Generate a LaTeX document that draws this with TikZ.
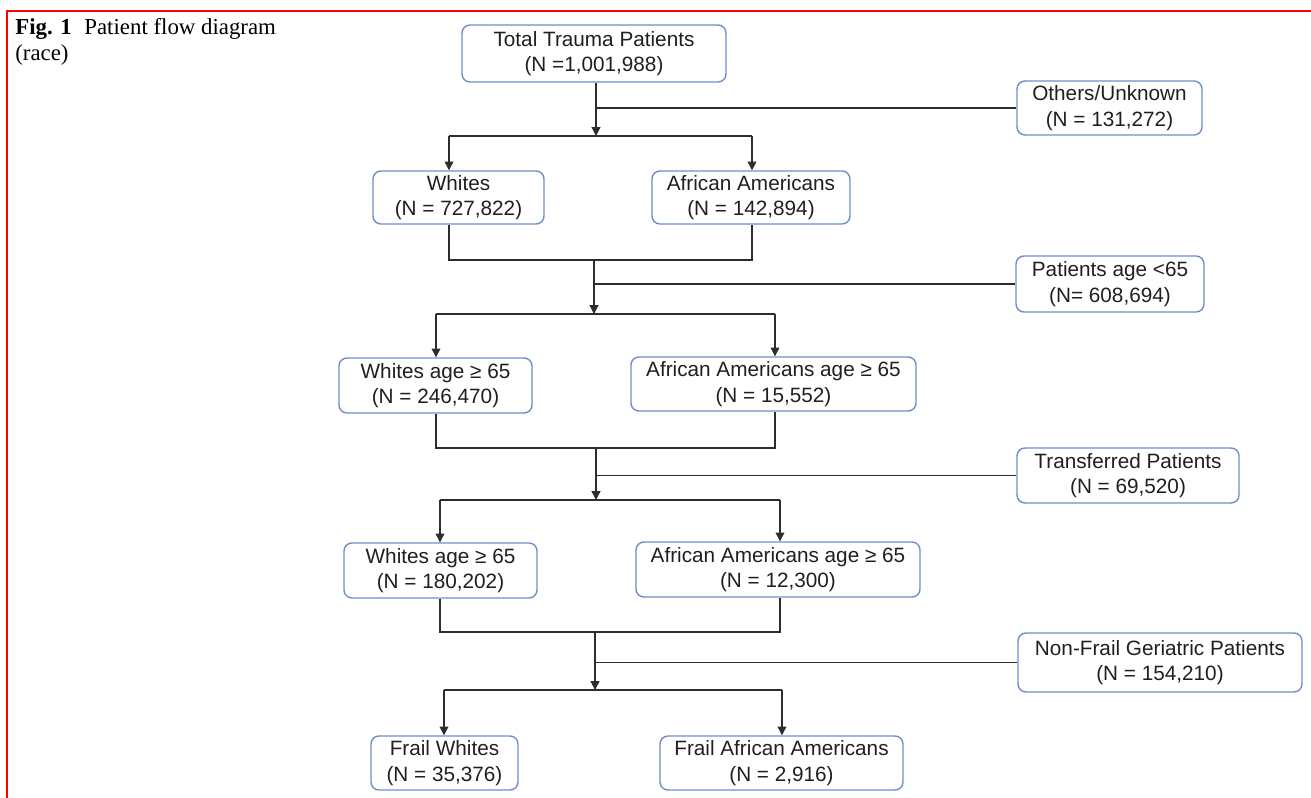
\documentclass[tikz,border=0pt]{standalone}
\usepackage{fontspec}
\setmainfont{Liberation Sans}
\newfontfamily\capfont{Liberation Serif}
\usetikzlibrary{arrows.meta}
\definecolor{boxblue}{RGB}{112,142,198}
\definecolor{linegray}{RGB}{45,45,45}
\definecolor{framered}{RGB}{255,0,0}

\begin{document}
\begin{tikzpicture}[x=0.2mm,y=-0.2mm,
    box/.style={draw=boxblue,line width=0.8pt,rounded corners=1.6mm,align=center,inner sep=0pt,
      minimum height=11mm,text=black!88,font=\fontsize{11.8}{14.5}\selectfont},
    link/.style={draw=linegray,line width=0.7pt},
    flow/.style={link,-{Triangle[length=5pt,width=5pt]}}]
\useasboundingbox (0,0) rectangle (1311,798);
\draw[framered,line width=0.5mm] (7,798) -- (7,11) -- (1311,11);
\node[anchor=north west,inner sep=0pt,align=left,font=\capfont\fontsize{13}{14.7}\selectfont] (cap) at (15,18)
    {\textbf{Fig. 1}\hspace{0.55em}Patient flow diagram\\(race)};

\node[box,minimum width=52.8mm,minimum height=11.4mm] (tot) at (594,53.5) {Total Trauma Patients\\(N =1,001,988)};
\node[box,minimum width=37mm,minimum height=10.8mm] (oth) at (1109.5,108) {Others/Unknown\\(N = 131,272)};
\node[box,minimum width=34.2mm,minimum height=10.6mm] (wht) at (458.5,197.5) {Whites\\(N = 727,822)};
\node[box,minimum width=39.6mm,minimum height=10.6mm] (aam) at (751,197.5) {African Americans\\(N = 142,894)};
\node[box,minimum width=37.6mm,minimum height=11.2mm] (young) at (1110,284) {Patients age <65\\(N= 608,694)};
\node[box,minimum width=38.6mm] (wold) at (435.5,385.5) {Whites age ≥ 65\\(N = 246,470)};
\node[box,minimum width=57mm,minimum height=10.8mm] (aold) at (773.5,384) {African Americans age ≥ 65\\(N = 15,552)};
\node[box,minimum width=44.4mm] (trf) at (1128,475.5) {Transferred Patients\\(N = 69,520)};
\node[box,minimum width=38.6mm] (wtr) at (440.5,570.5) {Whites age ≥ 65\\(N = 180,202)};
\node[box,minimum width=56.8mm] (atr) at (778,569.5) {African Americans age ≥ 65\\(N = 12,300)};
\node[box,minimum width=56.8mm,minimum height=11.8mm] (nfr) at (1160,662.5) {Non-Frail Geriatric Patients\\(N = 154,210)};
\node[box,minimum width=29.4mm,minimum height=10.8mm] (fwh) at (444.5,763) {Frail Whites\\(N = 35,376)};
\node[box,minimum width=48.6mm,minimum height=10.8mm] (faa) at (781.5,763) {Frail African Americans\\(N = 2,916)};

% junctions of the connector lines
\coordinate (t1) at (596,136);  \coordinate (s1w) at (449,136); \coordinate (s1e) at (752,136);
\coordinate (j2) at (594,260);  \coordinate (t2) at (594,314);
\coordinate (s2w) at (436,314); \coordinate (s2e) at (775,314);
\coordinate (j3) at (596,448);  \coordinate (t3) at (596,500);
\coordinate (s3w) at (440,500); \coordinate (s3e) at (780,500);
\coordinate (j4) at (595,632);  \coordinate (t4) at (595,690);
\coordinate (s4w) at (444,690); \coordinate (s4e) at (782,690);

\draw[flow] (tot.south -| t1) -- (t1);
\draw[link] (t1 |- oth.west) -- (oth.west);
\draw[link] (s1w) -- (s1e);
\draw[flow] (s1w) -- (s1w |- wht.north);
\draw[flow] (s1e) -- (s1e |- aam.north);

\draw[link] (s1w |- wht.south) -- (s1w |- j2) -- (s1e |- j2) -- (s1e |- aam.south);
\draw[flow] (j2) -- (t2);
\draw[link] (j2 |- young.west) -- (young.west);
\draw[link] (s2w) -- (s2e);
\draw[flow] (s2w) -- (s2w |- wold.north);
\draw[flow] (s2e) -- (s2e |- aold.north);

\draw[link] (s2w |- wold.south) -- (s2w |- j3) -- (s2e |- j3) -- (s2e |- aold.south);
\draw[flow] (j3) -- (t3);
\draw[link] (j3 |- trf.west) -- (trf.west);
\draw[link] (s3w) -- (s3e);
\draw[flow] (s3w) -- (s3w |- wtr.north);
\draw[flow] (s3e) -- (s3e |- atr.north);

\draw[link] (s3w |- wtr.south) -- (s3w |- j4) -- (s3e |- j4) -- (s3e |- atr.south);
\draw[flow] (j4) -- (t4);
\draw[link] (j4 |- nfr.west) -- (nfr.west);
\draw[link] (s4w) -- (s4e);
\draw[flow] (s4w) -- (s4w |- fwh.north);
\draw[flow] (s4e) -- (s4e |- faa.north);
\end{tikzpicture}
\end{document}
